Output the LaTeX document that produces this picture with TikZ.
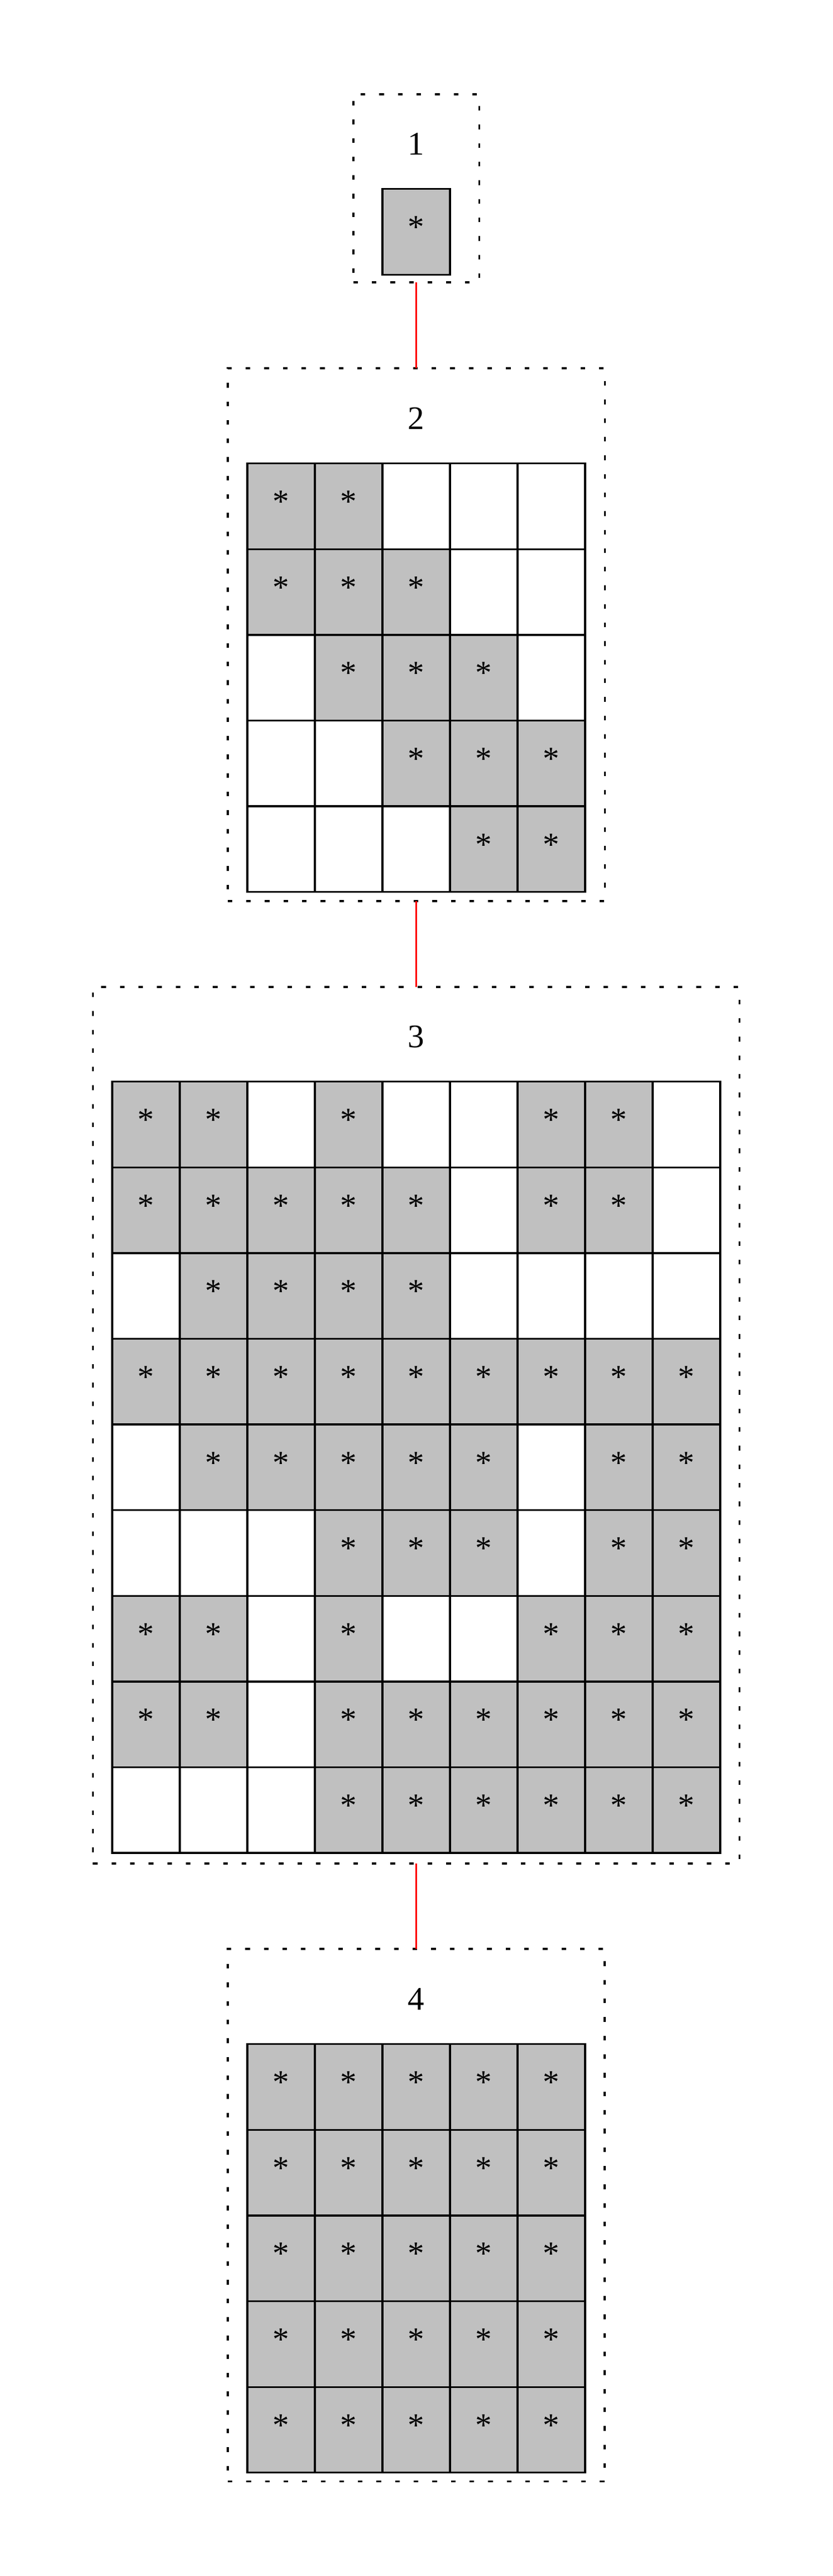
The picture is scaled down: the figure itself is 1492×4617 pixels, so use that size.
\documentclass[tikz,border=0pt]{standalone}
\usepackage{fontspec}
\setmainfont{Liberation Serif}
\newdimen\pxu \pxu=0.16pt
\definecolor{cellgray}{RGB}{192,192,192}
\tikzset{
  cellbox/.style={draw, line width=0.53pt, inner sep=0pt, outer sep=0pt,
    minimum width=121\pxu, minimum height=153.6\pxu},
  oncell/.style={cellbox, fill=cellgray},
  offcell/.style={cellbox, fill=white},
  groupbox/.style={draw, line width=0.53pt, dash pattern=on 1.33pt off 4pt,
    inner sep=0pt, outer sep=0pt},
  grouplabel/.style={inner sep=0pt},
  link/.style={draw=red, line width=0.53pt},
}
% #1 id, #2 columns, #3 top y (px), #4 pattern rows
\newcommand\cellgrid[4]{%
  \foreach \row [count=\r] in {#4} {
    \foreach \v [count=\c] in \row {
      \pgfmathsetmacro\cx{745.5-#2*60.5+121*(\c-0.5)}
      \pgfmathsetmacro\cy{#3+153.6*(\r-0.5)}
      \ifnum\v=1
        \node[oncell] (c#1-\r-\c) at (\cx,\cy) {\raisebox{2.6pt}{*}};
      \else
        \node[offcell] (c#1-\r-\c) at (\cx,\cy) {};
      \fi
    }
  }%
}
\begin{document}
\begin{tikzpicture}[x=0.16pt,y=-0.16pt,font=\fontsize{9.45}{11}\selectfont]
\useasboundingbox (0,0) rectangle (1492,4617);

% group boxes
\node[groupbox, minimum width=225.3\pxu, minimum height=337\pxu] (box1) at (745.5,337.5) {};
\node[groupbox, minimum width=675.3\pxu, minimum height=955\pxu] (box2) at (745.5,1137.5) {};
\node[groupbox, minimum width=1158.3\pxu, minimum height=1571\pxu] (box3) at (745.5,2554.5) {};
\node[groupbox, minimum width=675\pxu, minimum height=954.7\pxu] (box4) at (745.5,3970.35) {};

% labels
\node[grouplabel] (lab1) at (745.5,258) {1};
\node[grouplabel] (lab2) at (745.5,750) {2};
\node[grouplabel] (lab3) at (745.5,1858.5) {3};
\node[grouplabel] (lab4) at (745.5,3583) {4};

% cells
\cellgrid{1}{1}{338.7}{{1}}
\cellgrid{2}{5}{830.7}{{1,1,0,0,0},{1,1,1,0,0},{0,1,1,1,0},{0,0,1,1,1},{0,0,0,1,1}}
\cellgrid{3}{9}{1938.7}{{1,1,0,1,0,0,1,1,0},{1,1,1,1,1,0,1,1,0},{0,1,1,1,1,0,0,0,0},{1,1,1,1,1,1,1,1,1},{0,1,1,1,1,1,0,1,1},{0,0,0,1,1,1,0,1,1},{1,1,0,1,0,0,1,1,1},{1,1,0,1,1,1,1,1,1},{0,0,0,1,1,1,1,1,1}}
\cellgrid{4}{5}{3663.7}{{1,1,1,1,1},{1,1,1,1,1},{1,1,1,1,1},{1,1,1,1,1},{1,1,1,1,1}}

% connectors
\draw[link] (box1.south) -- (box2.north);
\draw[link] (box2.south) -- (box3.north);
\draw[link] (box3.south) -- (box4.north);
\end{tikzpicture}
\end{document}
